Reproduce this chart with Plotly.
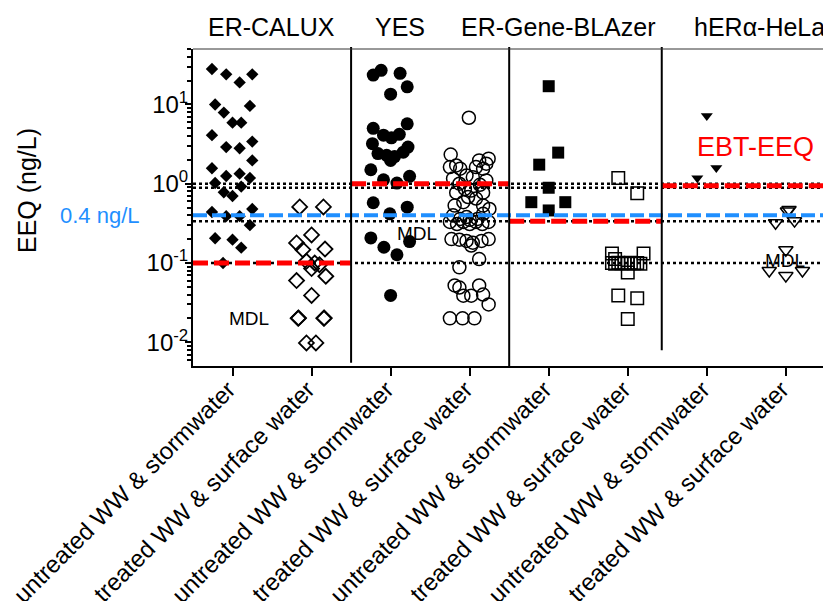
import numpy as np
import plotly.graph_objects as go

# ---------------- data ----------------
categories = ["untreated WW & stormwater", "treated WW & surface water"] * 4
assays = ["ER-CALUX", "YES", "ER-Gene-BLAzer", "hERα-HeLa"]

# ER-CALUX, untreated WW & stormwater (EEQ ng/L) and horizontal jitter (category units)
calux_untr = [28, 24, 19, 24, 10, 7.9, 9.6, 5.9, 5.9, 4.1, 2.9, 2.8, 3.4, 1.97, 1.57, 1.25,
              1.34, 1.18, 1.02, 0.78, 0.70, 0.92, 0.44, 0.39, 0.39, 0.48, 0.30, 0.205, 0.197,
              0.156, 0.1]
calux_untr_j = [-0.26, -0.08, 0.09, 0.25, -0.22, -0.11, 0.22, 0.0, 0.11, -0.26, -0.08, 0.09,
                0.25, 0.25, -0.26, -0.08, 0.09, 0.22, -0.22, -0.11, 0.0, 0.11, -0.26, -0.08,
                0.09, 0.25, 0.22, -0.22, 0.0, 0.11, -0.12]
# ER-CALUX, treated WW & surface water
calux_tr = [0.51, 0.51, 0.226, 0.179, 0.147, 0.15, 0.105, 0.1, 0.085, 0.095, 0.068, 0.06,
            0.039, 0.02, 0.0202, 0.02, 0.0202, 0.0098, 0.0098]
calux_tr_j = [-0.15, 0.15, 0.0, -0.19, -0.11, 0.17, -0.065, 0.04, 0.0, 0.1, 0.18, -0.19,
              0.0, -0.17, -0.165, 0.155, 0.16, -0.065, 0.055]
# YES, untreated
yes_untr = [23.5, 27, 24.7, 16.7, 13.5, 5.0, 5.7, 4.1, 3.8, 4.2, 3.2, 2.9, 2.4, 2.28, 2.2,
            2.5, 1.97, 1.5, 1.12, 1.02, 1.24, 0.575, 0.417, 0.506, 0.207, 0.158, 0.127,
            0.186, 0.039]
yes_untr_j = [-0.22, -0.12, 0.12, 0.21, 0.0, -0.22, 0.21, -0.09, 0.01, 0.11, -0.23, 0.22,
              -0.16, -0.05, 0.05, 0.16, 0.0, -0.25, -0.09, 0.08, 0.24, -0.22, -0.01, 0.21,
              -0.25, -0.085, 0.08, 0.24, 0.0]
# YES, treated
yes_tr = [6.8, 2.33, 2.07, 1.97, 1.79, 1.62, 1.7, 1.55, 1.62, 1.55, 1.27, 1.21, 1.16, 1.1,
          1.0, 0.97, 0.86, 0.82, 0.77, 0.77, 0.68, 0.65, 0.53, 0.53, 0.48, 0.585, 0.4, 0.417,
          0.38, 0.33, 0.31, 0.33, 0.31, 0.33, 0.31, 0.33, 0.36, 0.36, 0.35, 0.2, 0.197, 0.19,
          0.18, 0.19, 0.2, 0.166, 0.088, 0.112, 0.052, 0.049, 0.0386, 0.0386, 0.052, 0.04,
          0.030, 0.02, 0.02, 0.02]
yes_tr_j = [-0.01, -0.24, 0.24, 0.12, 0.21, -0.25, -0.17, -0.12, 0.08, 0.17, -0.04, 0.04,
            -0.21, 0.21, -0.13, 0.13, -0.06, 0.02, -0.17, 0.17, -0.02, 0.08, -0.19, 0.17,
            0.25, -0.08, -0.21, 0.17, -0.04, -0.25, -0.16, -0.08, 0.0, 0.08, 0.16, 0.24,
            -0.12, 0.1, 0.0, -0.23, -0.13, -0.04, 0.04, 0.15, 0.24, 0.02, -0.13, 0.12,
            -0.19, -0.13, -0.08, 0.02, 0.12, 0.17, 0.24, -0.25, -0.09, 0.06]
# ER-Gene-BLAzer, untreated
bla_untr = [17, 2.47, 1.74, 0.89, 0.585, 0.585, 0.46]
bla_untr_j = [0.0, 0.12, -0.12, 0.0, -0.22, 0.21, 0.0]
# ER-Gene-BLAzer, treated
bla_tr = [1.18, 0.76, 0.132, 0.132, 0.112, 0.1, 0.098, 0.101, 0.099, 0.1, 0.098, 0.101,
          0.099, 0.1, 0.098, 0.076, 0.039, 0.036, 0.0196]
bla_tr_j = [-0.12, 0.12, -0.2, 0.2, -0.16, -0.2, -0.16, -0.12, -0.08, -0.04, 0.0, 0.04,
            0.08, 0.12, 0.16, 0.0, -0.12, 0.12, 0.0]
# hERα-HeLa, untreated
hela_untr = [7.2, 1.59, 1.18]
hela_untr_j = [0.0, 0.12, -0.12]
# hERα-HeLa, treated
hela_tr = [0.47, 0.45, 0.32, 0.34, 0.146, 0.08, 0.069, 0.08]
hela_tr_j = [0.04, 0.02, -0.13, 0.11, 0.0, -0.21, 0.0, 0.21]

# reference levels
dotted_levels = [1.0, 0.89, 0.337, 0.1]
blue_level = 0.4
ebt_eeq = [0.1, 1.0, 0.337, 0.94]   # per assay

# ---------------- figure ----------------
FONT = "Liberation Sans, Arial, sans-serif"
XMIN, XMAX = -0.5, 7.47
fig = go.Figure()

groups = [
    (0, calux_untr, calux_untr_j, "diamond", 9.5, 0),
    (1, calux_tr, calux_tr_j, "diamond-open", 11.5, 1.8),
    (2, yes_untr, yes_untr_j, "circle", 13, 0),
    (3, yes_tr, yes_tr_j, "circle-open", 13, 1.5),
    (4, bla_untr, bla_untr_j, "square", 12, 0),
    (5, bla_tr, bla_tr_j, "square-open", 12.5, 1.5),
    (6, hela_untr, hela_untr_j, "triangle-down", 10.5, 0),
    (7, hela_tr, hela_tr_j, "triangle-down-open", 12.5, 1.5),
]
for idx, vals, jit, sym, size, lw in groups:
    fig.add_trace(go.Scatter(
        x=[idx + j for j in jit], y=vals, mode="markers",
        marker=dict(symbol=sym, size=size, color="black", line=dict(width=lw, color="black")),
        showlegend=False, hoverinfo="skip"))

# dotted black reference lines
for lv in dotted_levels:
    fig.add_trace(go.Scatter(x=[XMIN, XMAX], y=[lv, lv], mode="lines",
                             line=dict(color="black", width=2.5, dash="3px,3px"),
                             showlegend=False, hoverinfo="skip"))
# blue 0.4 ng/L line
fig.add_trace(go.Scatter(x=[XMIN, XMAX], y=[blue_level, blue_level], mode="lines",
                         line=dict(color="#1f8fff", width=4, dash="14px,5px"),
                         showlegend=False, hoverinfo="skip"))
# red EBT-EEQ segments per assay
seg_edges = [XMIN, 1.5, 3.5, 5.43, XMAX]
for k, lv in enumerate(ebt_eeq):
    fig.add_trace(go.Scatter(x=[seg_edges[k], seg_edges[k + 1]], y=[lv, lv], mode="lines",
                             line=dict(color="#ff0000", width=5, dash="15px,6px"),
                             showlegend=False, hoverinfo="skip"))

# separators between assays
shapes = []
for xs, y0 in [(1.5, 0.01), (3.5, 0.0), (5.43, 0.05)]:
    shapes.append(dict(type="line", xref="x", yref="paper", x0=xs, x1=xs, y0=y0, y1=1.006,
                       line=dict(color="black", width=2)))
shapes.append(dict(type="line", xref="paper", yref="paper", x0=0, x1=1, y0=1, y1=1,
                   line=dict(color="#333", width=1)))

# minor ticks
minor_vals = []
for d in [0.001, 0.01, 0.1, 1, 10]:
    for m in range(2, 10):
        v = m * d
        if 0.005 <= v <= 50:
            minor_vals.append(v)

annotations = []
header_left_px = [206, 373, 459, 692]
for name, px in zip(assays, header_left_px):
    annotations.append(dict(text=name, xref="paper", yref="paper",
                            x=(px - 193) / 630, y=1.069, xanchor="left", yanchor="middle",
                            showarrow=False, font=dict(size=25, color="black", family=FONT)))
for tx, ty in [(0.21, 0.02), (2.33, 0.234), (6.99, 0.107)]:
    annotations.append(dict(text="MDL", x=tx, y=np.log10(ty), xref="x", yref="y",
                            xanchor="center", yanchor="middle",
                            showarrow=False, font=dict(size=19, color="black", family=FONT)))
annotations.append(dict(text="EBT-EEQ", x=6.62, y=np.log10(2.9), xref="x", yref="y",
                        xanchor="center", yanchor="middle",
                        showarrow=False, font=dict(size=27, color="#ff0000", family=FONT)))
annotations.append(dict(text="0.4 ng/L", x=(100 - 193) / 630, y=np.log10(blue_level),
                        xref="paper", yref="y", xanchor="center", yanchor="middle",
                        showarrow=False, font=dict(size=22, color="#1f8fff", family=FONT)))
annotations.append(dict(text="EEQ (ng/L)", x=(27 - 193) / 630, y=0.552, xref="paper",
                        yref="paper", textangle=-90, xanchor="center", yanchor="middle",
                        showarrow=False, font=dict(size=25, color="black", family=FONT)))

fig.update_layout(
    width=823, height=601,
    margin=dict(l=193, r=0, t=49, b=235, pad=0, autoexpand=False),
    paper_bgcolor="white", plot_bgcolor="white",
    font=dict(family=FONT, size=24, color="black"),
    shapes=shapes, annotations=annotations,
    xaxis=dict(range=[XMIN, XMAX], tickvals=list(range(8)), ticktext=categories,
               tickangle=-45, ticks="outside", ticklen=8, tickwidth=2, tickcolor="black",
               showline=True, linewidth=2, linecolor="black", showgrid=False,
               zeroline=False, automargin=False, tickfont=dict(size=24, family=FONT),
               ticklabelstandoff=-10, ticklabelshift=-4),
    yaxis=dict(type="log", range=[-2.3, 1.7],
               tickvals=[0.01, 0.1, 1, 10],
               ticktext=["10<sup>-2</sup>", "10<sup>-1</sup>", "10<sup>0</sup>", "10<sup>1</sup>"],
               ticks="outside", ticklen=6, tickwidth=2, tickcolor="black",
               showline=True, linewidth=2, linecolor="black", showgrid=False,
               zeroline=False, automargin=False, tickfont=dict(size=24, family=FONT),
               ticklabelstandoff=-8,
               minor=dict(tickvals=minor_vals, ticks="outside", ticklen=4, tickwidth=1.5,
                          tickcolor="black", showgrid=False)),
)

fig.write_html("out.html")
